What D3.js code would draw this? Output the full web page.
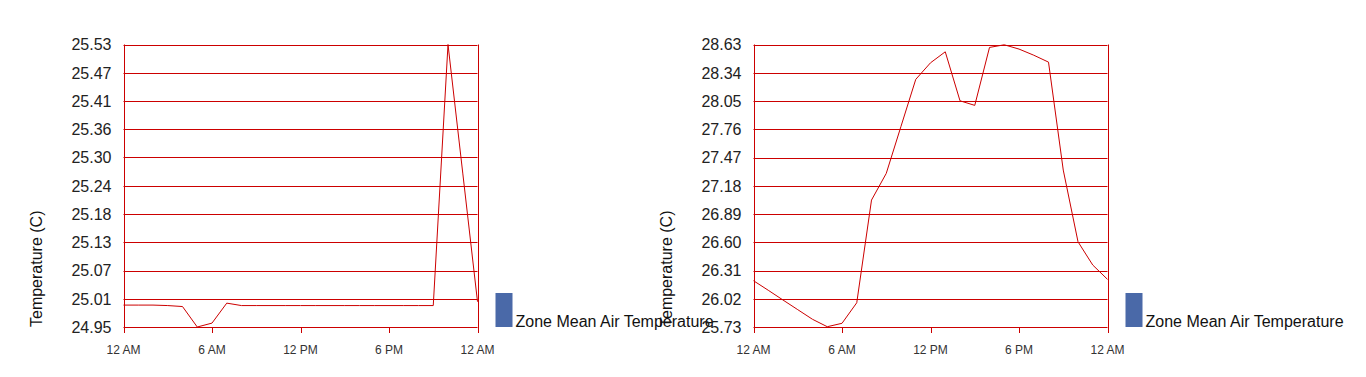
<!DOCTYPE html>
<html>
<head>
<meta charset="utf-8">
<script src="https://cdn.jsdelivr.net/npm/d3@7"></script>
<style>
  body { margin: 0; background: #fff; }
  svg { display: block; font-family: "Liberation Sans", Arial, sans-serif; }
</style>
</head>
<body>
<script>
// hours of the day (x categories)
const hours = [0, 1, 2, 3, 4, 5, 6, 7, 8, 9, 10, 11, 12, 13, 14, 15, 16, 17, 18, 19, 20, 21, 22, 23, 24];
const hourTicks = [0, 6, 12, 18, 24];
const hourLabels = ["12 AM", "6 AM", "12 PM", "6 PM", "12 AM"];

const seriesName = "Zone Mean Air Temperature";
const axisTitle = "Temperature (C)";

// left panel
const leftValues = [24.995, 24.995, 24.995, 24.994, 24.992, 24.950, 24.958, 24.999, 24.994,
  24.994, 24.994, 24.994, 24.994, 24.994, 24.994, 24.994, 24.994, 24.994, 24.994, 24.994,
  24.994, 24.994, 25.530, 25.266, 25.002];
const leftDomain = [24.95, 25.53];
const leftTickLabels = ["24.95", "25.01", "25.07", "25.13", "25.18", "25.24", "25.30", "25.36", "25.41", "25.47", "25.53"];

// right panel
const rightValues = [26.205, 26.107, 26.007, 25.908, 25.809, 25.733, 25.768, 25.979, 27.033,
  27.307, 27.790, 28.272, 28.442, 28.555, 28.052, 28.005, 28.600, 28.627, 28.583, 28.520,
  28.449, 27.341, 26.605, 26.366, 26.219];
const rightDomain = [25.73, 28.63];
const rightTickLabels = ["25.73", "26.02", "26.31", "26.60", "26.89", "27.18", "27.47", "27.76", "28.05", "28.34", "28.63"];

const W = 1366, H = 377;
const plotW = 354, plotTop = 44.5, plotBottom = 327;
const red = "#cc0000";

let svg = d3.select("body").append("svg")
  .attr("width", W)
  .attr("height", H);

function drawPanel(left, values, domain, tickLabels) {
  let g = svg.append("g");

  let x = d3.scaleLinear().domain([0, 24]).range([left, left + plotW]);
  let y = d3.scaleLinear().domain(domain).range([plotBottom, plotTop]);

  // evenly spaced tick positions across the domain
  let step = (domain[1] - domain[0]) / (tickLabels.length - 1);
  let tickVals = tickLabels.map((t, i) => domain[0] + i * step);

  // horizontal gridlines
  g.selectAll(".grid")
    .data(tickVals)
    .enter()
    .append("line")
    .attr("x1", left)
    .attr("x2", left + plotW)
    .attr("y1", d => Math.round(y(d)) + 0.5)
    .attr("y2", d => Math.round(y(d)) + 0.5)
    .attr("stroke", red)
    .attr("stroke-width", 1);

  // y labels
  g.selectAll(".ylab")
    .data(tickVals)
    .enter()
    .append("text")
    .attr("x", left - 12)
    .attr("y", d => y(d))
    .attr("dy", "0.36em")
    .attr("text-anchor", "end")
    .attr("font-size", 16)
    .attr("fill", "#222")
    .text((d, i) => tickLabels[i]);

  // x ticks and frame sides
  g.selectAll(".xtick")
    .data(hourTicks)
    .enter()
    .append("line")
    .attr("x1", d => Math.round(x(d)) + 0.5)
    .attr("x2", d => Math.round(x(d)) + 0.5)
    .attr("y1", d => (d === 0 || d === 24) ? plotTop : plotBottom)
    .attr("y2", plotBottom + 6)
    .attr("stroke", red);

  g.selectAll(".xlab")
    .data(hourTicks)
    .enter()
    .append("text")
    .attr("x", d => x(d))
    .attr("y", 354)
    .attr("text-anchor", "middle")
    .attr("font-size", 12)
    .attr("fill", "#333")
    .text((d, i) => hourLabels[i]);

  // data line
  let line = d3.line()
    .x((d, i) => x(hours[i]))
    .y(d => y(d));

  g.append("path")
    .datum(values)
    .attr("d", line)
    .attr("fill", "none")
    .attr("stroke", red)
    .attr("stroke-width", 1);

  // axis title
  g.append("text")
    .attr("transform", "translate(" + (left - 82) + "," + plotBottom + ") rotate(-90)")
    .attr("font-size", 16)
    .attr("fill", "#111")
    .text(axisTitle);

  // legend
  g.append("rect")
    .attr("x", left + plotW + 18)
    .attr("y", 293)
    .attr("width", 17)
    .attr("height", 34)
    .attr("fill", "#4a69a8");

  g.append("text")
    .attr("x", left + plotW + 38)
    .attr("y", 327)
    .attr("font-size", 16)
    .attr("fill", "#111")
    .text(seriesName);
}

drawPanel(123.5, leftValues, leftDomain, leftTickLabels);
drawPanel(753.5, rightValues, rightDomain, rightTickLabels);
</script>
</body>
</html>
